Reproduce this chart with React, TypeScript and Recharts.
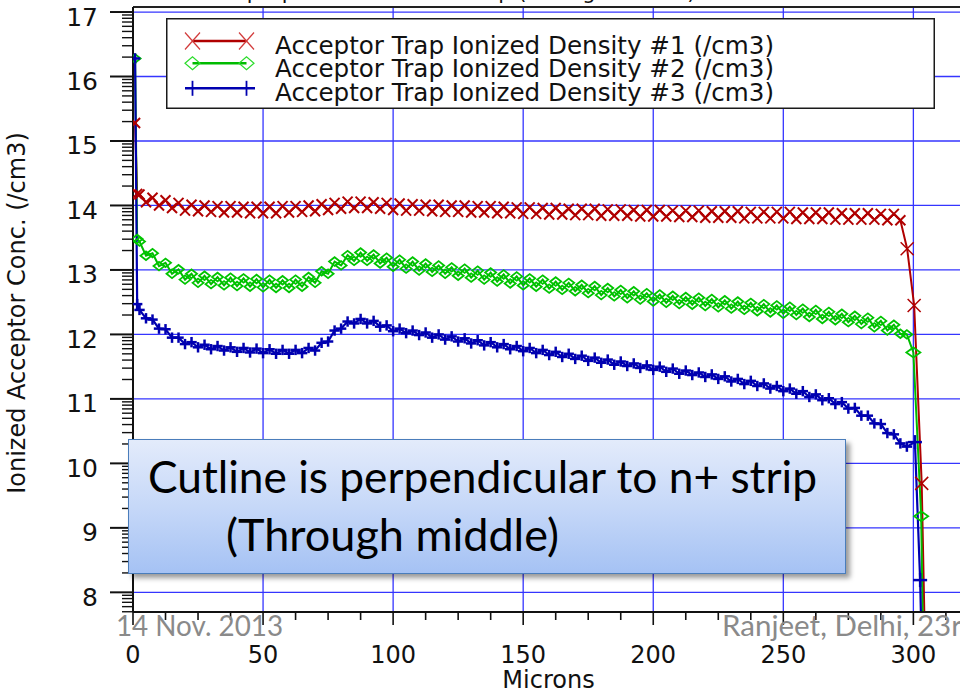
import React from 'react';
import { LineChart, Line, XAxis, YAxis, CartesianGrid, Legend, ReferenceLine, Label } from 'recharts';

// ---- data -------------------------------------------------------------

// mesh positions along the cutline (microns)
const positions = [
  0.8, 1.6,
  2.5, 5, 7.5, 10, 12.5, 15, 17.5, 20, 22.5, 25,
  27.5, 30, 32.5, 35, 37.5, 40, 42.5, 45, 47.5, 50,
  52.5, 55, 57.5, 60, 62.5, 65, 67.5, 70, 72.5, 75,
  77.5, 80, 82.5, 85, 87.5, 90, 92.5, 95, 97.5, 100,
  102.5, 105, 107.5, 110, 112.5, 115, 117.5, 120, 122.5, 125,
  127.5, 130, 132.5, 135, 137.5, 140, 142.5, 145, 147.5, 150,
  152.5, 155, 157.5, 160, 162.5, 165, 167.5, 170, 172.5, 175,
  177.5, 180, 182.5, 185, 187.5, 190, 192.5, 195, 197.5, 200,
  202.5, 205, 207.5, 210, 212.5, 215, 217.5, 220, 222.5, 225,
  227.5, 230, 232.5, 235, 237.5, 240, 242.5, 245, 247.5, 250,
  252.5, 255, 257.5, 260, 262.5, 265, 267.5, 270, 272.5, 275,
  277.5, 280, 282.5, 285, 287.5, 290, 292.5, 295,
];

// log10 of ionized trap density, trap #1
const trap1 = [
  15.28, 14.18,
  14.17, 14.05, 14.12, 14.0, 14.08, 13.96, 14.04, 13.92, 14.01, 13.91,
  14.0, 13.9, 13.99, 13.89, 13.99, 13.89, 13.98, 13.88, 13.98, 13.88,
  13.98, 13.88, 13.99, 13.89, 13.99, 13.9, 14.0, 13.91, 14.02, 13.93,
  14.04, 13.95, 14.06, 13.96, 14.06, 13.96, 14.05, 13.95, 14.04, 13.93,
  14.03, 13.92, 14.02, 13.92, 14.01, 13.91, 14.01, 13.9, 14.0, 13.9,
  14.0, 13.89, 13.99, 13.89, 13.99, 13.88, 13.98, 13.88, 13.97, 13.87,
  13.97, 13.87, 13.96, 13.86, 13.96, 13.86, 13.95, 13.85, 13.95, 13.85,
  13.95, 13.84, 13.94, 13.84, 13.94, 13.84, 13.93, 13.83, 13.93, 13.83,
  13.93, 13.83, 13.92, 13.82, 13.92, 13.82, 13.92, 13.81, 13.91, 13.81,
  13.91, 13.81, 13.91, 13.8, 13.9, 13.8, 13.9, 13.8, 13.9, 13.8,
  13.9, 13.79, 13.89, 13.79, 13.89, 13.79, 13.89, 13.78, 13.88, 13.78,
  13.88, 13.78, 13.88, 13.78, 13.87, 13.77, 13.87, 13.77,
];

// trap #2
const trap2 = [
  16.28, 13.48,
  13.44, 13.22, 13.26, 13.06, 13.11, 12.94, 13.01, 12.85, 12.94, 12.8,
  12.91, 12.78, 12.89, 12.76, 12.88, 12.75, 12.87, 12.74, 12.86, 12.73,
  12.85, 12.72, 12.84, 12.72, 12.85, 12.74, 12.89, 12.8, 12.98, 12.94,
  13.13, 13.07, 13.23, 13.14, 13.27, 13.14, 13.24, 13.1, 13.19, 13.05,
  13.16, 13.02, 13.13, 12.99, 13.1, 12.97, 13.07, 12.94, 13.04, 12.91,
  13.02, 12.88, 12.99, 12.85, 12.96, 12.82, 12.93, 12.79, 12.9, 12.76,
  12.87, 12.74, 12.85, 12.71, 12.82, 12.69, 12.8, 12.67, 12.77, 12.64,
  12.75, 12.61, 12.72, 12.59, 12.69, 12.56, 12.67, 12.54, 12.64, 12.51,
  12.62, 12.49, 12.6, 12.47, 12.58, 12.46, 12.57, 12.44, 12.55, 12.42,
  12.53, 12.4, 12.51, 12.38, 12.49, 12.36, 12.47, 12.34, 12.45, 12.32,
  12.43, 12.3, 12.4, 12.27, 12.38, 12.24, 12.35, 12.22, 12.32, 12.19,
  12.29, 12.16, 12.26, 12.11, 12.21, 12.06, 12.15, 12.01,
];

// trap #3
const trap3 = [
  16.28, 12.47,
  12.38, 12.25, 12.23, 12.09, 12.08, 11.95, 11.95, 11.85, 11.88, 11.8,
  11.84, 11.77, 11.82, 11.75, 11.8, 11.73, 11.79, 11.72, 11.78, 11.71,
  11.77, 11.7, 11.76, 11.7, 11.76, 11.71, 11.79, 11.75, 11.87, 11.89,
  12.06, 12.09, 12.2, 12.17, 12.24, 12.17, 12.21, 12.12, 12.14, 12.05,
  12.09, 12.02, 12.06, 11.99, 12.03, 11.95, 12.0, 11.92, 11.97, 11.89,
  11.94, 11.86, 11.91, 11.83, 11.88, 11.8, 11.85, 11.77, 11.82, 11.74,
  11.79, 11.71, 11.76, 11.68, 11.73, 11.65, 11.7, 11.62, 11.67, 11.59,
  11.64, 11.56, 11.61, 11.53, 11.58, 11.51, 11.55, 11.48, 11.52, 11.45,
  11.5, 11.42, 11.47, 11.39, 11.44, 11.37, 11.41, 11.34, 11.38, 11.31,
  11.35, 11.27, 11.31, 11.23, 11.28, 11.2, 11.24, 11.16, 11.2, 11.12,
  11.16, 11.08, 11.12, 11.03, 11.07, 10.98, 11.01, 10.92, 10.95, 10.85,
  10.86, 10.74, 10.74, 10.62, 10.61, 10.47, 10.45, 10.31,
];

// steep fall-off at the n+ side
const trap1TailX = [297.6, 300.3, 303.2, 304.3];
const trap1TailY = [13.33, 12.45, 9.69, 7.5];
const trap2TailX = [297.5, 300, 303, 303.6];
const trap2TailY = [12.0, 11.72, 9.18, 7.5];
const trap3TailX = [297.5, 300.6, 302.6, 303];
const trap3TailY = [10.26, 10.33, 8.19, 7.5];

const seriesNames = [
  'Acceptor Trap Ionized Density #1 (/cm3)',
  'Acceptor Trap Ionized Density #2 (/cm3)',
  'Acceptor Trap Ionized Density #3 (/cm3)',
];

const xTicks = [
  0, 12.5, 25, 37.5, 50, 62.5, 75, 87.5, 100, 112.5, 125, 137.5, 150,
  162.5, 175, 187.5, 200, 212.5, 225, 237.5, 250, 262.5, 275, 287.5, 300, 312.5,
];
const xTickLabels = [0, 50, 100, 150, 200, 250, 300];
const yTickLabels = [8, 9, 10, 11, 12, 13, 14, 15, 16, 17];

// ---- layout / style ---------------------------------------------------

const AXIS_FONT = '"DejaVu Sans", "Bitstream Vera Sans", sans-serif';
const SLIDE_FONT = 'Lato, "Open Sans", sans-serif';
const RED = '#b00000';
const GREEN = '#00bb00';
const BLUE = '#0000b0';
const GRID = '#3535ff';

const X_MAX = 321;
const Y_MIN = 7.695;
const Y_MAX = 17.078;
const EDGE_MICRONS = 297.55; // points past this use the large marker

// log-decade minor ticks between the labelled exponents
const yMinor: number[] = [];
for (let n = 7; n <= 16; n++) {
  for (let k = 2; k <= 9; k++) {
    const v = n + Math.log10(k);
    if (v >= Y_MIN && v <= Y_MAX) yMinor.push(v);
  }
}
const yTicks = [...yTickLabels, ...yMinor].sort((a, b) => a - b);

const build = (ys: number[], tx: number[], ty: number[]) =>
  positions
    .map((x, i) => ({ x, y: ys[i] }))
    .concat(tx.map((x, i) => ({ x, y: ty[i] })));

const series1 = build(trap1, trap1TailX, trap1TailY);
const series2 = build(trap2, trap2TailX, trap2TailY);
const series3 = build(trap3, trap3TailX, trap3TailY);

// ---- markers ----------------------------------------------------------

const crossDot = (p: any) => {
  const { cx, cy, index, payload } = p;
  if (cx == null || cy == null || payload.y < Y_MIN) return <g key={`c${index}`} />;
  const big = payload.x > EDGE_MICRONS;
  const r = big ? 6.5 : 5;
  return (
    <g key={`c${index}`} stroke={RED} strokeWidth={big ? 1.5 : 2} fill="none">
      <line x1={cx - r} y1={cy - r} x2={cx + r} y2={cy + r} />
      <line x1={cx - r} y1={cy + r} x2={cx + r} y2={cy - r} />
    </g>
  );
};

const diamondDot = (p: any) => {
  const { cx, cy, index, payload } = p;
  if (cx == null || cy == null || payload.y < Y_MIN) return <g key={`d${index}`} />;
  const big = payload.x > EDGE_MICRONS;
  const w = big ? 7 : 5.5;
  const h = big ? 5 : 4.3;
  return (
    <polygon
      key={`d${index}`}
      points={`${cx - w},${cy} ${cx},${cy - h} ${cx + w},${cy} ${cx},${cy + h}`}
      fill="none"
      stroke="#00c400"
      strokeWidth={1.8}
    />
  );
};

const plusDot = (p: any) => {
  const { cx, cy, index, payload } = p;
  if (cx == null || cy == null || payload.y < Y_MIN) return <g key={`p${index}`} />;
  const big = payload.x > EDGE_MICRONS;
  const r = big ? 7 : 5.2;
  return (
    <g key={`p${index}`} stroke={BLUE} strokeWidth={2.5}>
      <line x1={cx - r} y1={cy} x2={cx + r} y2={cy} />
      <line x1={cx} y1={cy - r} x2={cx} y2={cy + r} />
    </g>
  );
};

// ---- axes -------------------------------------------------------------

const XTick = (p: any) => {
  const { x, y, payload } = p;
  const v = payload.value;
  const major = xTickLabels.includes(v);
  return (
    <g>
      <line x1={x} y1={y} x2={x} y2={y + (major ? 13 : 8)} stroke="#111" strokeWidth={1.6} />
      {major && (
        <text x={x} y={y + 51} textAnchor="middle" fontFamily={AXIS_FONT} fontSize={24} fill="#111">
          {v}
        </text>
      )}
    </g>
  );
};

const YTick = (p: any) => {
  const { x, y, payload } = p;
  const v = payload.value;
  const major = yTickLabels.includes(v);
  return (
    <g>
      <line x1={x - (major ? 23 : 11)} y1={y} x2={x} y2={y} stroke="#111" strokeWidth={major ? 2 : 1.4} />
      {major && (
        <text x={x - 35} y={y + 13.5} textAnchor="end" fontFamily={AXIS_FONT} fontSize={25} fill="#111">
          {v}
        </text>
      )}
    </g>
  );
};

const XTitle = (p: any) => {
  const vb = p.viewBox || {};
  return (
    <text x={vb.x + vb.width / 2 - 2} y={vb.y + 76} textAnchor="middle" fontFamily={AXIS_FONT} fontSize={24} fill="#111">
      Microns
    </text>
  );
};

const YTitle = () => (
  <text
    x={25}
    y={313}
    transform="rotate(-90, 25, 313)"
    textAnchor="middle"
    fontFamily={AXIS_FONT}
    fontSize={24}
    fill="#111"
  >
    Ionized Acceptor Conc. (/cm3)
  </text>
);

// ---- legend -----------------------------------------------------------

const legendMarkerColors = ['#d23a3a', '#2bdc2b', BLUE];

const TrapLegend = (props: any) => {
  const payload = props.payload || [];
  const rowY = [23, 45.3, 70.3];
  const baseY = [36, 59.3, 82.7];
  const lx1 = 26.5;
  const lx2 = 80.5;
  return (
    <svg width={769} height={91} style={{ display: 'block' }}>
      <rect x={0.75} y={0.75} width={767.5} height={89.5} fill="#fff" stroke="#1a1a1a" strokeWidth={1.5} />
      {payload.map((entry: any, i: number) => {
        const y = rowY[i];
        const mc = legendMarkerColors[i];
        return (
          <g key={`lg${i}`}>
            {i === 2 ? (
              <line x1={19} y1={y} x2={89} y2={y} stroke={entry.color} strokeWidth={2.5} />
            ) : (
              <line x1={lx1} y1={y} x2={lx2} y2={y} stroke={entry.color} strokeWidth={2.5} />
            )}
            {[lx1, lx2].map((cx, j) => {
              if (i === 0) {
                return (
                  <g key={j} stroke={mc} strokeWidth={1.2}>
                    <line x1={cx - 7.5} y1={y - 8.5} x2={cx + 7.5} y2={y + 8.5} />
                    <line x1={cx - 7.5} y1={y + 8.5} x2={cx + 7.5} y2={y - 8.5} />
                  </g>
                );
              }
              if (i === 1) {
                return (
                  <polygon
                    key={j}
                    points={`${cx - 7.5},${y} ${cx},${y - 6.5} ${cx + 7.5},${y} ${cx},${y + 6.5}`}
                    fill="none"
                    stroke={mc}
                    strokeWidth={1.2}
                  />
                );
              }
              return <line key={j} x1={cx} y1={y - 7.5} x2={cx} y2={y + 7.5} stroke={mc} strokeWidth={1.8} />;
            })}
            <text x={109} y={baseY[i]} fontFamily={AXIS_FONT} fontSize={24.6} fill="#111">
              {entry.value}
            </text>
          </g>
        );
      })}
    </svg>
  );
};

// ---- chart ------------------------------------------------------------

export default function App() {
  return (
    <div
      style={{
        position: 'absolute',
        left: 0,
        top: 0,
        width: 960,
        height: 692,
        overflow: 'hidden',
        background: '#fff',
      }}
    >
      <LineChart width={990} height={692} margin={{ top: 7, right: 22, bottom: 0, left: 0 }}>
        <CartesianGrid
          stroke={GRID}
          strokeWidth={1.3}
          horizontalValues={yTickLabels}
          verticalValues={xTickLabels}
        />
        <XAxis
          type="number"
          dataKey="x"
          domain={[0, X_MAX]}
          allowDataOverflow
          ticks={xTicks}
          interval={0}
          height={80}
          tickSize={0}
          tickMargin={0}
          tickLine={false}
          tick={XTick}
          axisLine={{ stroke: '#111', strokeWidth: 2 }}
        >
          <Label content={XTitle} />
        </XAxis>
        <YAxis
          type="number"
          dataKey="y"
          domain={[Y_MIN, Y_MAX]}
          allowDataOverflow
          ticks={yTicks}
          interval={0}
          width={133}
          tickSize={0}
          tickMargin={0}
          tickLine={false}
          tick={YTick}
          axisLine={{ stroke: '#111', strokeWidth: 2 }}
        >
          <Label content={YTitle} />
        </YAxis>
        <ReferenceLine y={Y_MAX} stroke="#222" strokeWidth={2} />
        <Line
          data={series1}
          dataKey="y"
          name={seriesNames[0]}
          type="linear"
          stroke={RED}
          strokeWidth={2}
          dot={crossDot}
          activeDot={false}
          isAnimationActive={false}
        />
        <Line
          data={series2}
          dataKey="y"
          name={seriesNames[1]}
          type="linear"
          stroke={GREEN}
          strokeWidth={2}
          dot={diamondDot}
          activeDot={false}
          isAnimationActive={false}
        />
        <Line
          data={series3}
          dataKey="y"
          name={seriesNames[2]}
          type="linear"
          stroke={BLUE}
          strokeWidth={2.2}
          dot={plusDot}
          activeDot={false}
          isAnimationActive={false}
        />
        <Legend
          verticalAlign="middle"
          layout="horizontal"
          wrapperStyle={{ left: 166, top: 18, width: 769, height: 91 }}
          content={TrapLegend}
        />
      </LineChart>

      {/* slide annotation */}
      <div
        style={{
          position: 'absolute',
          left: 128,
          top: 439,
          width: 718,
          height: 135,
          boxSizing: 'border-box',
          border: '1.5px solid #4a7dbb',
          background: 'linear-gradient(to bottom, #e3ebfb 0%, #c6d8f8 50%, #a5c2f4 100%)',
          boxShadow: '4px 4px 5px rgba(0,0,0,0.4)',
        }}
      >
        <svg width={715} height={132} style={{ display: 'block' }}>
          <text x={19} y={53} fontFamily={SLIDE_FONT} fontSize={44} fill="#000" textLength={669} lengthAdjust="spacingAndGlyphs">
            Cutline is perpendicular to n+ strip
          </text>
          <text x={97} y={111} fontFamily={SLIDE_FONT} fontSize={44} fill="#000" textLength={333} lengthAdjust="spacingAndGlyphs">
            (Through middle)
          </text>
        </svg>
      </div>

      {/* plot title (cut off at the top) and slide footer */}
      <svg
        width={960}
        height={692}
        style={{ position: 'absolute', left: 0, top: 0, pointerEvents: 'none' }}
      >
        <text x={166} y={-1.5} fontFamily={AXIS_FONT} fontSize={21} fill="#111">
          Cutline perpendicular to n+ strip (through middle)
        </text>
        <text x={116} y={636} fontFamily={SLIDE_FONT} fontSize={29} fill="#8a8a8a" textLength={167} lengthAdjust="spacingAndGlyphs">
          14 Nov. 2013
        </text>
        <text x={722} y={636} fontFamily={SLIDE_FONT} fontSize={29} fill="#8a8a8a" textLength={240} lengthAdjust="spacingAndGlyphs">
          Ranjeet, Delhi, 23r
        </text>
      </svg>
    </div>
  );
}
